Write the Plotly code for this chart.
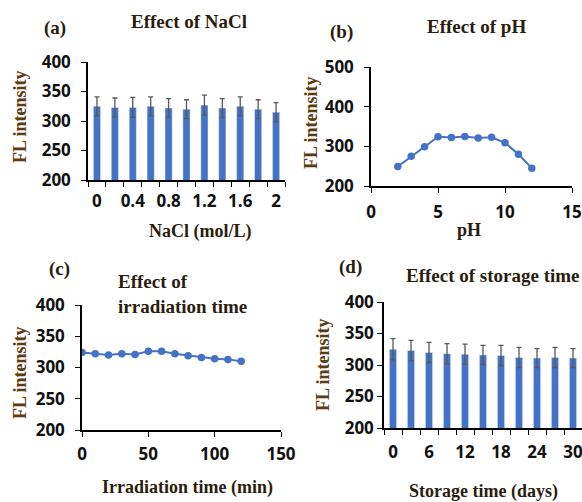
import plotly.graph_objects as go

# ---- data ----
nacl = [0, 0.2, 0.4, 0.6, 0.8, 1.0, 1.2, 1.4, 1.6, 1.8, 2.0]
nacl_fl = [325, 323, 323, 325, 322, 320, 327, 322, 325, 320, 315]
nacl_err = [16, 16, 17, 16, 16, 16, 17, 16, 16, 16, 16]
nacl_ticks = [0, 0.4, 0.8, 1.2, 1.6, 2.0]
nacl_ticktext = ["0", "0.4", "0.8", "1.2", "1.6", "2"]

ph = [2, 3, 4, 5, 6, 7, 8, 9, 10, 11, 12]
ph_fl = [249, 275, 299, 324, 322, 325, 321, 323, 309, 280, 245]

irr = [0, 10, 20, 30, 40, 50, 60, 70, 80, 90, 100, 110, 120]
irr_fl = [324, 322, 320, 322, 321, 326, 326, 322, 319, 316, 314, 313, 310]

days = [0, 3, 6, 9, 12, 15, 18, 21, 24, 27, 30]
days_fl = [325, 323, 320, 318, 317, 316, 315, 312, 311, 312, 311]
days_err = [17, 16, 16, 16, 16, 15, 16, 16, 15, 16, 15]
days_ticks = [0, 6, 12, 18, 24, 30]

BLUE = "#4472C4"
W, H = 582, 502
TICKFONT = dict(family="Open Sans", size=17, color="#111111", weight="bold")
SERIF = "Liberation Serif"
TITLE_COL = "#2b1d0e"
YLAB_COL = "#5e3a12"


def px(x):
    return x / W


def py(y):
    return 1 - y / H


fig = go.Figure()

err_style = dict(type="data", thickness=1.3, width=2.5, color="#595959")

fig.add_trace(go.Bar(x=nacl, y=nacl_fl, width=0.08, marker_color=BLUE,
                     error_y=dict(array=nacl_err, **err_style),
                     xaxis="x", yaxis="y"))
fig.add_trace(go.Scatter(x=ph, y=ph_fl, mode="lines+markers",
                         line=dict(color=BLUE, width=2),
                         marker=dict(color=BLUE, size=7.5),
                         xaxis="x2", yaxis="y2"))
fig.add_trace(go.Scatter(x=irr, y=irr_fl, mode="lines+markers",
                         line=dict(color=BLUE, width=2),
                         marker=dict(color=BLUE, size=7.5),
                         xaxis="x3", yaxis="y3"))
fig.add_trace(go.Bar(x=days, y=days_fl, width=1.2, marker_color=BLUE,
                     error_y=dict(array=days_err, **err_style),
                     xaxis="x4", yaxis="y4"))

axis_common = dict(showline=True, linecolor="black", linewidth=1.5,
                   showgrid=False, zeroline=False, ticks="outside",
                   ticklen=5, tickwidth=1.3, tickcolor="black",
                   tickfont=TICKFONT, fixedrange=True, automargin=False,
                   ticklabeloverflow="allow")
axis_nolen = {k: v for k, v in axis_common.items() if k != "ticklen"}

fig.update_layout(
    # (a)
    xaxis=dict(domain=[px(88), px(285)], anchor="y", range=[-0.1, 2.1],
               tickmode="array", tickvals=nacl_ticks, ticktext=nacl_ticktext,
               ticklen=0, ticklabelstandoff=5,
               minor=dict(tickmode="linear", tick0=-0.1, dtick=0.2,
                          ticks="outside", ticklen=5, tickcolor="black",
                          tickwidth=1.3),
               **axis_nolen),
    yaxis=dict(domain=[py(180), py(62)], anchor="x", range=[200, 400],
               dtick=50, ticklabelstandoff=7, **axis_common),
    # (b)
    xaxis2=dict(domain=[px(371), px(572)], anchor="y2", range=[0, 15],
                dtick=5, ticklabelstandoff=5, **axis_common),
    yaxis2=dict(domain=[py(186), py(67)], anchor="x2", range=[200, 500],
                dtick=100, ticklabelstandoff=7, **axis_common),
    # (c)
    xaxis3=dict(domain=[px(82), px(281)], anchor="y3", range=[0, 150],
                dtick=50, ticklabelstandoff=3, **axis_common),
    yaxis3=dict(domain=[py(430), py(305)], anchor="x3", range=[200, 400],
                dtick=50, ticklabelstandoff=7, **axis_common),
    # (d)
    xaxis4=dict(domain=[px(384), px(582)], anchor="y4", range=[-1.5, 31.5],
                tickmode="array", tickvals=days_ticks,
                ticklen=0, ticklabelstandoff=8,
                minor=dict(tickmode="linear", tick0=-1.5, dtick=3,
                           ticks="outside", ticklen=5, tickcolor="black",
                           tickwidth=1.3),
                **axis_nolen),
    yaxis4=dict(domain=[py(428), py(302)], anchor="x4", range=[200, 400],
                dtick=50, ticklabelstandoff=0, **axis_common),
)

annots = [
    # panel labels
    ("(a)", 55, 28, 19, TITLE_COL, 0),
    ("(b)", 341, 32, 19, TITLE_COL, 0),
    ("(c)", 59, 269, 19, TITLE_COL, 0),
    ("(d)", 350, 267, 19, TITLE_COL, 0),
    # titles
    ("Effect of NaCl", 189, 22, 19, TITLE_COL, 0),
    ("Effect of pH", 476, 27, 19, TITLE_COL, 0),
    ("Effect of storage time", 493, 275, 19, TITLE_COL, 0),
    # x titles
    ("NaCl (mol/L)", 200, 231, 18, TITLE_COL, 0),
    ("pH", 469, 230, 18, TITLE_COL, 0),
    ("Irradiation time (min)", 187, 487, 18, TITLE_COL, 0),
    ("Storage time (days)", 483, 491, 18, TITLE_COL, 0),
    # y titles
    ("FL intensity", 20, 117, 18, YLAB_COL, -90),
    ("FL intensity", 311, 123, 18, YLAB_COL, -90),
    ("FL intensity", 20, 373, 18, YLAB_COL, -90),
    ("FL intensity", 323, 365, 18, YLAB_COL, -90),
]
for text, x, y, size, col, ang in annots:
    fig.add_annotation(text=text, x=px(x), y=py(y), xref="paper", yref="paper",
                       showarrow=False, textangle=ang, xanchor="center",
                       yanchor="middle",
                       font=dict(family=SERIF, size=size, color=col,
                                 weight="bold"))

fig.add_annotation(text="Effect of<br>irradiation time", x=px(116), y=py(294),
                   xref="paper", yref="paper", showarrow=False,
                   xanchor="left", yanchor="middle", align="left",
                   font=dict(family=SERIF, size=19, color=TITLE_COL,
                             weight="bold"))

fig.update_layout(width=W, height=H, margin=dict(l=0, r=0, t=0, b=0),
                  showlegend=False, paper_bgcolor="white",
                  plot_bgcolor="white", bargap=0.6)

fig.write_html("out.html", config={"displayModeBar": False},
               post_script="document.body.style.margin='0';"
                           "document.body.style.padding='0';"
                           "document.body.style.overflow='hidden';")
